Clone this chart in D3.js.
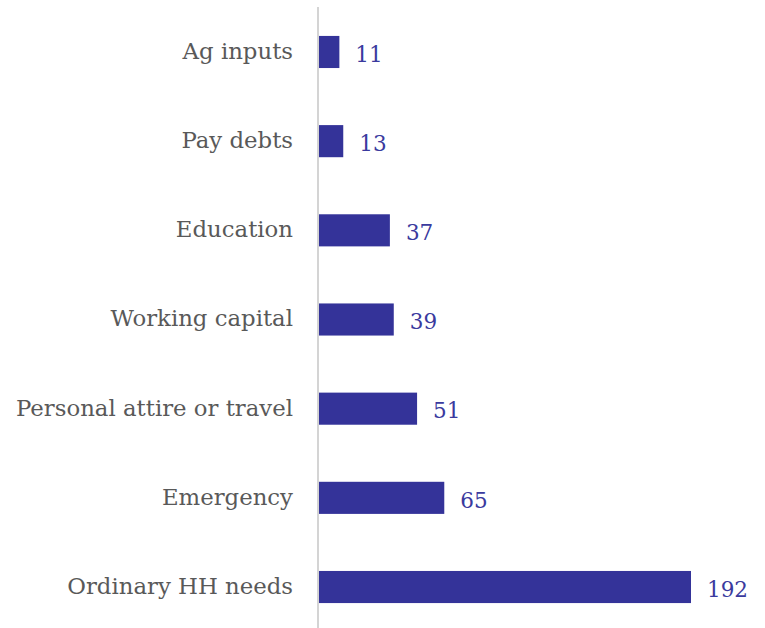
<!DOCTYPE html>
<html><head><meta charset="utf-8">
<script src="https://cdn.jsdelivr.net/npm/d3@7"></script>
<style>body{margin:0;background:#fff}svg{display:block}</style>
</head><body>
<script>
const categories = ["Ag inputs","Pay debts","Education","Working capital","Personal attire or travel","Emergency","Ordinary HH needs"];
const values = [11,13,37,39,51,65,192];

const W = 765, H = 628;
const axisX = 318;
const svg = d3.select("body").append("svg").attr("width", W).attr("height", H);
const font = "'DejaVu Serif', Georgia, serif";

const x = d3.scaleLinear().domain([0, 192]).range([axisX, 691]);
const y = d3.scaleBand().domain(categories).range([7.4, 631.6]).paddingInner(0.64).paddingOuter(0.32);

svg.selectAll("rect.bar").data(categories).enter().append("rect")
  .attr("x", axisX + 1)
  .attr("y", d => y(d))
  .attr("width", (d, i) => x(values[i]) - axisX - 1)
  .attr("height", y.bandwidth())
  .attr("fill", "#343399");

svg.append("line").attr("x1", axisX).attr("x2", axisX).attr("y1", 7).attr("y2", H)
  .attr("stroke", "#d4d4d4").attr("stroke-width", 2);

svg.selectAll("text.cat").data(categories).enter().append("text")
  .attr("x", axisX - 25)
  .attr("y", d => y(d) + y.bandwidth() / 2)
  .attr("dy", "0.3em")
  .attr("text-anchor", "end")
  .attr("font-family", font).attr("font-size", 22.8)
  .attr("fill", "#595959")
  .text(d => d);

svg.selectAll("text.val").data(categories).enter().append("text")
  .attr("x", (d, i) => x(values[i]) + 16)
  .attr("y", d => y(d) + y.bandwidth() / 2)
  .attr("dy", "0.45em")
  .attr("font-family", font).attr("font-size", 21.5)
  .attr("fill", "#3a3a9e")
  .text((d, i) => values[i]);
</script>
</body></html>
